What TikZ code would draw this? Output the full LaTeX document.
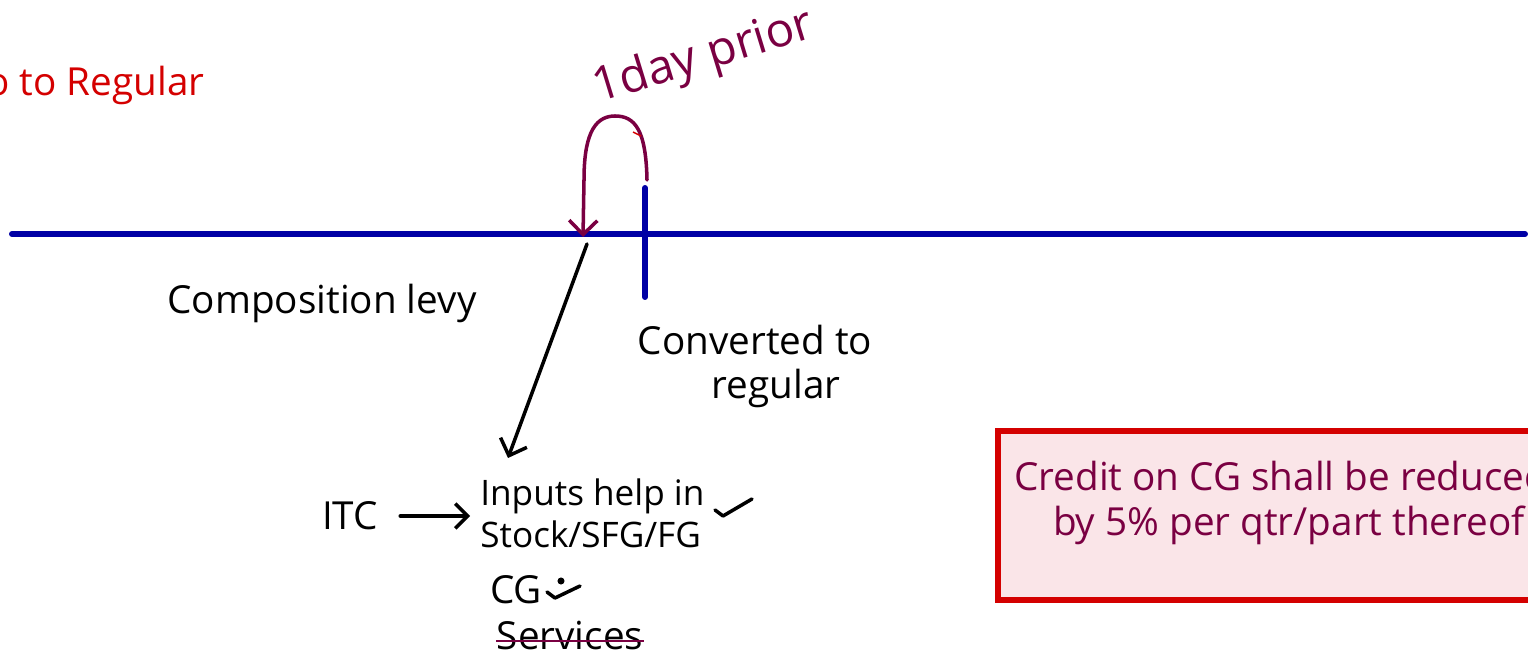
\documentclass[tikz,border=0pt]{standalone}
\usepackage{fontspec}
\setmainfont{Open Sans}
\usetikzlibrary{arrows.meta}
\definecolor{lineblue}{RGB}{0,0,165}
\definecolor{plum}{RGB}{122,0,66}
\definecolor{notered}{RGB}{212,0,0}
\definecolor{notepink}{RGB}{250,229,232}

\begin{document}
\begin{tikzpicture}[x=0.02cm, y=-0.02cm,
    every node/.style={inner sep=0pt, font=\fontsize{22}{26}\selectfont},
    pen/.style={line width=2pt, line cap=round, line join=round},
    barb/.style={-{Straight Barb[length=8pt, width=16pt, line width=2pt]}}]
  \useasboundingbox (0,0) rectangle (1528,661);

  % Time line and the switch-over mark
  \draw [lineblue, line width=3.4pt, line cap=round] (12,234) -- (1525,234);
  \draw [lineblue, line width=3.4pt, line cap=round] (645,188) -- (645,297);

  % Labels
  \node [notered, anchor=west] (regular) at (-14,85) {o to Regular};
  \node [plum, rotate=17, font=\fontsize{27}{30}\selectfont] (prior) at (704,58) {1day prior};
  \node (levy) at (322,303) {Composition levy};
  \node (conv) at (755,340) {Converted to};
  \node (convb) at (776,388) {regular};
  \node (itc) at (350,516) {ITC};
  \node [align=left, anchor=west, font=\fontsize{20}{24}\selectfont] (inputs) at (480,513)
    {Inputs help in\\Stock/SFG/FG};
  \node (cg) at (516,590) {CG};
  \node (serv) at (570,636) {Services};

  % One day back from the switch
  \coordinate (loopstart) at (647,180);
  \coordinate (loopend) at (583,237);
  \draw [plum, pen, barb] (loopstart) .. controls (646,130) and (635,116) .. (615,116)
    .. controls (592,116) and (584,140) .. (584,180) -- (loopend);
  \draw [notered, line width=0.8pt] (633,132) -- (641,136);

  % Down to the inputs
  \coordinate (drop) at (587,244);
  \coordinate (droptip) at (508,458);
  \draw [pen, barb] (drop) -- (droptip);
  \draw [pen, -{Straight Barb[length=7pt, width=14pt, line width=2pt]}] (itc.east) ++(22,0) -- ([xshift=-0.2cm]inputs.west |- itc);

  % Ticks
  \draw [pen] (715,510) -- (723,516) -- (752,499);
  \draw [pen] (547,592) -- (555,598) -- (580,586);
  \fill (561,581) circle (2pt);
  \draw [plum, line width=1.4pt] ([yshift=-0.1cm]serv.west) -- ([yshift=-0.1cm]serv.east);

  % Note box
  \draw [notered, line width=3.4pt, fill=notepink] (998,431) rectangle (1570,600);
  \node [plum, align=left, anchor=west] (credit) at (1014,503)
    {Credit on CG shall be reduced\\\quad by 5\% per qtr/part thereof};
\end{tikzpicture}
\end{document}
